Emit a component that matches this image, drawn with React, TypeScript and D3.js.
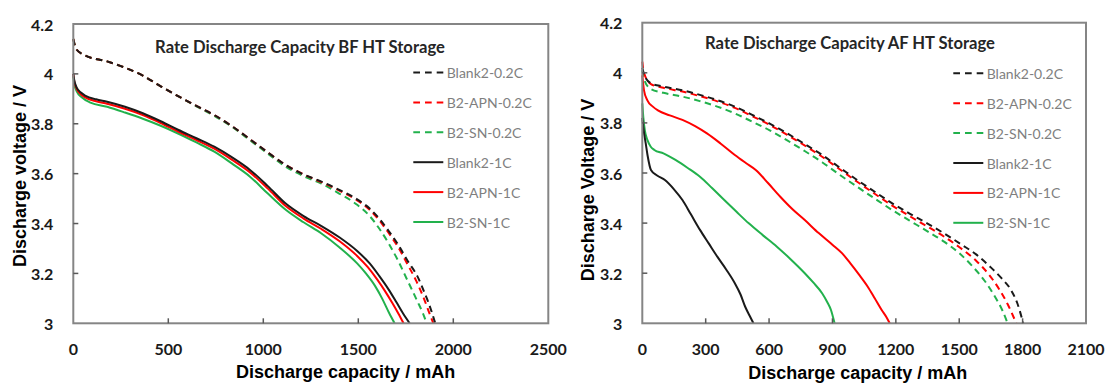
import React from "react";
import * as d3 from "d3";

// ---------- Data: BF HT Storage (left) ----------
const bfBlank02Cap = [0, 15, 60, 178, 272, 366, 460, 554, 648, 742, 836, 930, 1024, 1118, 1212, 1306, 1400, 1494, 1560, 1610, 1660, 1710, 1760, 1810, 1850, 1880, 1905];
const bfBlank02V = [4.14, 4.1, 4.075, 4.05, 4.025, 3.993, 3.95, 3.91, 3.872, 3.835, 3.79, 3.738, 3.685, 3.635, 3.597, 3.568, 3.535, 3.497, 3.46, 3.42, 3.37, 3.315, 3.25, 3.19, 3.12, 3.06, 3.0];
const bfApn02Cap = [0, 15, 60, 178, 272, 366, 460, 554, 648, 742, 836, 930, 1024, 1118, 1212, 1306, 1400, 1494, 1560, 1610, 1660, 1710, 1760, 1805, 1845, 1872, 1895];
const bfApn02V = [4.14, 4.1, 4.075, 4.05, 4.025, 3.993, 3.95, 3.91, 3.872, 3.835, 3.79, 3.738, 3.685, 3.635, 3.597, 3.566, 3.532, 3.493, 3.455, 3.413, 3.362, 3.305, 3.235, 3.17, 3.1, 3.045, 3.0];
const bfSn02Cap = [0, 15, 60, 178, 272, 366, 460, 554, 648, 742, 836, 930, 1024, 1118, 1212, 1306, 1400, 1494, 1560, 1610, 1660, 1710, 1760, 1810, 1840, 1860];
const bfSn02V = [4.14, 4.1, 4.075, 4.05, 4.025, 3.993, 3.95, 3.91, 3.87, 3.832, 3.787, 3.734, 3.68, 3.628, 3.59, 3.56, 3.52, 3.475, 3.43, 3.38, 3.32, 3.25, 3.17, 3.09, 3.04, 3.0];
const bfBlank1Cap = [0, 5, 18, 40, 65, 120, 178, 272, 366, 460, 554, 648, 742, 836, 930, 1024, 1118, 1212, 1306, 1400, 1494, 1560, 1610, 1660, 1700, 1735, 1770];
const bfBlank1V = [4.0, 3.975, 3.945, 3.925, 3.912, 3.898, 3.888, 3.868, 3.842, 3.81, 3.775, 3.742, 3.708, 3.665, 3.615, 3.55, 3.48, 3.43, 3.39, 3.345, 3.29, 3.24, 3.19, 3.135, 3.085, 3.04, 3.0];
const bfApn1Cap = [0, 5, 18, 40, 65, 120, 178, 272, 366, 460, 554, 648, 742, 836, 930, 1024, 1118, 1212, 1306, 1400, 1494, 1550, 1600, 1640, 1680, 1710, 1738];
const bfApn1V = [4.0, 3.97, 3.94, 3.918, 3.905, 3.89, 3.88, 3.86, 3.835, 3.803, 3.768, 3.735, 3.7, 3.655, 3.605, 3.54, 3.47, 3.42, 3.378, 3.33, 3.27, 3.225, 3.175, 3.13, 3.08, 3.04, 3.0];
const bfSn1Cap = [0, 5, 18, 46, 90, 178, 272, 366, 460, 554, 648, 742, 836, 930, 1024, 1118, 1212, 1306, 1400, 1494, 1540, 1588, 1625, 1663, 1691];
const bfSn1V = [3.99, 3.96, 3.93, 3.905, 3.885, 3.868, 3.845, 3.82, 3.792, 3.76, 3.725, 3.688, 3.64, 3.588, 3.52, 3.455, 3.405, 3.36, 3.305, 3.24, 3.2, 3.15, 3.1, 3.04, 3.0];

// ---------- Data: AF HT Storage (right) ----------
const afBlank02Cap = [0, 10, 41, 100, 190, 272, 355, 438, 520, 603, 686, 768, 851, 934, 1017, 1100, 1183, 1265, 1348, 1430, 1513, 1580, 1646, 1700, 1745, 1775, 1803];
const afBlank02V = [4.02, 3.99, 3.958, 3.945, 3.93, 3.912, 3.891, 3.865, 3.832, 3.797, 3.758, 3.716, 3.672, 3.622, 3.572, 3.525, 3.479, 3.438, 3.399, 3.358, 3.313, 3.275, 3.226, 3.18, 3.133, 3.08, 3.0];
const afApn02Cap = [0, 8, 41, 100, 190, 272, 355, 438, 520, 603, 686, 768, 851, 934, 1017, 1100, 1183, 1265, 1348, 1430, 1513, 1580, 1640, 1690, 1730, 1770];
const afApn02V = [4.045, 4.0, 3.955, 3.94, 3.925, 3.907, 3.886, 3.86, 3.827, 3.792, 3.752, 3.71, 3.665, 3.615, 3.565, 3.517, 3.47, 3.428, 3.387, 3.345, 3.296, 3.25, 3.195, 3.135, 3.075, 3.0];
const afSn02Cap = [0, 10, 41, 100, 190, 272, 355, 438, 520, 603, 686, 768, 851, 934, 1017, 1100, 1183, 1265, 1348, 1430, 1500, 1560, 1620, 1670, 1705, 1729];
const afSn02V = [4.01, 3.97, 3.935, 3.92, 3.905, 3.887, 3.865, 3.838, 3.805, 3.77, 3.73, 3.688, 3.643, 3.593, 3.545, 3.498, 3.452, 3.41, 3.368, 3.325, 3.28, 3.23, 3.17, 3.105, 3.05, 3.0];
const afBlank1Cap = [0, 5, 10, 16, 25, 41, 70, 107, 150, 190, 230, 273, 315, 355, 397, 438, 465, 487, 508, 526];
const afBlank1V = [3.82, 3.78, 3.75, 3.719, 3.67, 3.612, 3.59, 3.572, 3.535, 3.492, 3.435, 3.373, 3.318, 3.266, 3.215, 3.16, 3.115, 3.066, 3.03, 3.0];
const afApn1Cap = [0, 8, 24, 50, 74, 130, 190, 250, 306, 370, 438, 490, 537, 595, 653, 711, 769, 835, 901, 945, 984, 1025, 1067, 1100, 1133, 1155, 1171];
const afApn1V = [3.99, 3.93, 3.89, 3.865, 3.85, 3.83, 3.812, 3.787, 3.758, 3.718, 3.672, 3.64, 3.612, 3.56, 3.505, 3.455, 3.412, 3.36, 3.313, 3.28, 3.24, 3.195, 3.146, 3.1, 3.053, 3.025, 3.0];
const afSn1Cap = [0, 5, 12, 24, 40, 57, 100, 157, 215, 273, 330, 388, 446, 504, 570, 637, 703, 769, 810, 851, 875, 893, 910];
const afSn1V = [3.878, 3.82, 3.77, 3.732, 3.705, 3.692, 3.678, 3.652, 3.62, 3.585, 3.54, 3.492, 3.445, 3.399, 3.352, 3.306, 3.255, 3.2, 3.162, 3.12, 3.085, 3.053, 3.0];

// ---------- Labels / ticks ----------
const seriesNames = ["Blank2-0.2C", "B2-APN-0.2C", "B2-SN-0.2C", "Blank2-1C", "B2-APN-1C", "B2-SN-1C"];
const seriesColors = ["#1a1a1a", "#ff0000", "#22b14c", "#1a1a1a", "#ff0000", "#22b14c"];
const seriesDashed = [true, true, true, false, false, false];
const yTicks = [3, 3.2, 3.4, 3.6, 3.8, 4, 4.2];
const bfXTicks = [0, 500, 1000, 1500, 2000, 2500];
const afXTicks = [0, 300, 600, 900, 1200, 1500, 1800, 2100];
const bfTitle = "Rate Discharge Capacity BF HT Storage";
const afTitle = "Rate Discharge Capacity AF HT Storage";
const xTitle = "Discharge capacity / mAh";
const bfYTitle = "Discharge voltage / V";
const afYTitle = "Discharge Voltage / V";

const bfSeries = [
  [bfBlank02Cap, bfBlank02V],
  [bfApn02Cap, bfApn02V],
  [bfSn02Cap, bfSn02V],
  [bfBlank1Cap, bfBlank1V],
  [bfApn1Cap, bfApn1V],
  [bfSn1Cap, bfSn1V],
];
const afSeries = [
  [afBlank02Cap, afBlank02V],
  [afApn02Cap, afApn02V],
  [afSn02Cap, afSn02V],
  [afBlank1Cap, afBlank1V],
  [afApn1Cap, afApn1V],
  [afSn1Cap, afSn1V],
];

const drawOrder = [2, 1, 0, 5, 4, 3];

type PanelProps = {
  x0: number; x1: number; y0: number; y1: number;
  xMax: number; xTicks: number[];
  series: number[][][];
  title: string; titleX: number; titleY: number;
  yTitle: string; yTitleX: number; yTitleY: number;
  xTitleX: number; xTitleY: number;
  legLineX: number; legTextX: number; legY: number;
};

function Panel(p: PanelProps) {
  const x = d3.scaleLinear().domain([0, p.xMax]).range([p.x0, p.x1]);
  const y = d3.scaleLinear().domain([3, 4.2]).range([p.y1, p.y0]);
  const line = d3
    .line<[number, number]>()
    .x((d) => x(d[0]))
    .y((d) => y(d[1]))
    .curve(d3.curveMonotoneX);
  const tickFont = "Lato, 'Open Sans', sans-serif";
  const axisFont = "'Liberation Sans', Arial, sans-serif";
  return (
    <g>
      {drawOrder.map((i) => {
        const [cap, v] = p.series[i];
        const pts = cap.map((c, k) => [c, v[k]] as [number, number]);
        return (
          <path
            key={i}
            d={line(pts) || ""}
            fill="none"
            stroke={seriesColors[i]}
            strokeWidth={2}
            strokeDasharray={seriesDashed[i] ? "6.5,4.5" : undefined}
          />
        );
      })}
      {/* frame */}
      <rect x={p.x0} y={p.y0} width={p.x1 - p.x0} height={p.y1 - p.y0} fill="none" stroke="#858585" strokeWidth={2} />
      {/* ticks */}
      {p.xTicks.slice(1, -1).map((t) => (
        <line key={"xt" + t} x1={x(t)} x2={x(t)} y1={p.y1} y2={p.y1 - 5} stroke="#595959" strokeWidth={1.5} />
      ))}
      {yTicks.slice(1, -1).map((t) => (
        <line key={"yt" + t} x1={p.x0} x2={p.x0 + 5} y1={y(t)} y2={y(t)} stroke="#595959" strokeWidth={1.5} />
      ))}
      {p.xTicks.map((t) => (
        <text key={"xl" + t} x={x(t)} y={348} textAnchor="middle" dominantBaseline="central" fontFamily={tickFont} fontWeight={700} fontSize={16} fill="#1a1a1a">
          {t}
        </text>
      ))}
      {yTicks.map((t) => (
        <text key={"yl" + t} x={p.x0 - 20} y={y(t)} textAnchor="end" dominantBaseline="central" fontFamily={tickFont} fontWeight={700} fontSize={16} fill="#1a1a1a">
          {String(t)}
        </text>
      ))}
      {/* axis titles */}
      <text x={p.xTitleX} y={p.xTitleY} textAnchor="middle" dominantBaseline="central" fontFamily={axisFont} fontWeight={700} fontSize={18} fill="#000">
        {xTitle}
      </text>
      <text
        transform={`translate(${p.yTitleX},${p.yTitleY}) rotate(-90)`}
        textAnchor="middle"
        dominantBaseline="central"
        fontFamily={axisFont}
        fontWeight={700}
        fontSize={18}
        fill="#000"
      >
        {p.yTitle}
      </text>
      {/* chart title */}
      <text x={p.titleX} y={p.titleY} textAnchor="middle" dominantBaseline="central" fontFamily={tickFont} fontWeight={700} fontSize={16.6} fill="#262626">
        {p.title}
      </text>
      {/* legend */}
      {seriesNames.map((n, i) => {
        const ly = p.legY + i * 29.9;
        return (
          <g key={n}>
            <line
              x1={p.legLineX}
              x2={p.legLineX + 30}
              y1={ly}
              y2={ly}
              stroke={seriesColors[i]}
              strokeWidth={2}
              strokeDasharray={seriesDashed[i] ? "6.7,5" : undefined}
            />
            <text x={p.legTextX} y={ly} dominantBaseline="central" fontFamily={tickFont} fontSize={14} fill="#7f7f7f">
              {n}
            </text>
          </g>
        );
      })}
    </g>
  );
}

export default function App() {
  return (
    <svg
      width={1108}
      height={383}
      style={{ position: "absolute", left: 0, top: 0, background: "#fff" }}
    >
      <rect x={0} y={0} width={1108} height={383} fill="#fff" />
      <Panel
        x0={73.3} x1={548.3} y0={24} y1={323.3}
        xMax={2500} xTicks={bfXTicks} series={bfSeries}
        title={bfTitle} titleX={300} titleY={47}
        yTitle={bfYTitle} yTitleX={19.6} yTitleY={176}
        xTitleX={345.6} xTitleY={372}
        legLineX={413.3} legTextX={446.7} legY={72.5}
      />
      <Panel
        x0={642.3} x1={1086} y0={22.7} y1={323.3}
        xMax={2100} xTicks={afXTicks} series={afSeries}
        title={afTitle} titleX={850} titleY={43}
        yTitle={afYTitle} yTitleX={588} yTitleY={190}
        xTitleX={857.7} xTitleY={373}
        legLineX={953.3} legTextX={986.7} legY={73.3}
      />
    </svg>
  );
}
